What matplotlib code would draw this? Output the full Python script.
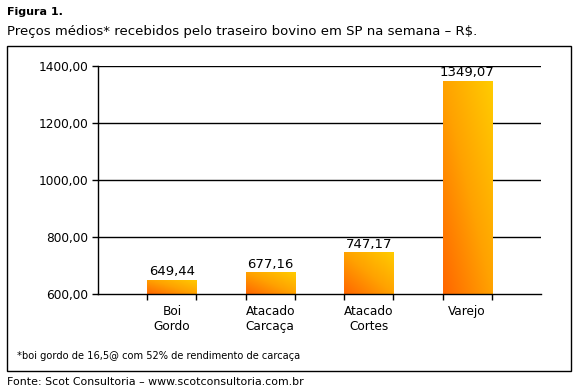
import numpy as np
import matplotlib
matplotlib.use("Agg")
import matplotlib.pyplot as plt
from matplotlib.colors import LinearSegmentedColormap
from matplotlib.patches import Rectangle

categories = ["Boi\nGordo", "Atacado\nCarcaça", "Atacado\nCortes", "Varejo"]
values = [649.44, 677.16, 747.17, 1349.07]
yticks = [600, 800, 1000, 1200, 1400]

W, H = 577, 391
fig = plt.figure(figsize=(W / 100, H / 100), dpi=100)
fig.patch.set_facecolor("white")

# outer frame
fig.patches.append(Rectangle((7 / W, 1 - 371 / H), 564 / W, 325 / H,
                             transform=fig.transFigure, fill=False,
                             edgecolor="black", linewidth=1))

ax = fig.add_axes([98 / W, 1 - 294 / H, 443 / W, 228 / H])

for s in ["top", "right"]:
    ax.spines[s].set_visible(False)
ax.spines["left"].set_linewidth(1)
ax.spines["bottom"].set_linewidth(1)

for y in yticks[1:]:
    ax.axhline(y, color="black", linewidth=1, zorder=1)

cmap = LinearSegmentedColormap.from_list("og", ["#ff6600", "#ffa200", "#ffcc00"])
grad = np.add.outer(np.linspace(0, 1, 100), np.linspace(0, 1, 100)) / 2  # rows=y, cols=x
bw = 0.5
for i, v in enumerate(values):
    x0, x1 = i - bw / 2, i + bw / 2
    im = ax.imshow(grad, cmap=cmap, origin="lower", aspect="auto",
                   extent=[x0, x1, 600, v], zorder=2, interpolation="bilinear")
    r = Rectangle((x0, 600), bw, v - 600, transform=ax.transData, visible=False)
    ax.add_patch(r)
    im.set_clip_path(r)
    ax.text(i, v + 5, f"{v:.2f}".replace(".", ","), ha="center", va="bottom",
            fontsize=9.5, zorder=3)

ax.set_xlim(-0.75, 3.75)
ax.set_ylim(600, 1400)

ax.set_yticks(yticks)
ax.set_yticklabels([f"{y:.2f}".replace(".", ",") for y in yticks], fontsize=8.7)
ax.tick_params(axis="y", length=4, width=1, pad=3)

ax.set_xticks(range(len(categories)))
ax.set_xticklabels(categories, fontsize=8.7, linespacing=1.2)
ax.tick_params(axis="x", which="major", length=0, pad=8)
minor = [i + d for i in range(len(categories)) for d in (-0.25, 0.25)]
ax.set_xticks(minor, minor=True)
ax.tick_params(axis="x", which="minor", length=4, width=1, direction="out")

fig.text(7 / W, 1 - 12 / H, "Figura 1.", fontsize=8, fontweight="bold",
         va="center", ha="left")
fig.text(7 / W, 1 - 31 / H, "Preços médios* recebidos pelo traseiro bovino em SP na semana – R$.",
         fontsize=9.5, va="center", ha="left")
fig.text(17 / W, 1 - 356 / H, "*boi gordo de 16,5@ com 52% de rendimento de carcaça",
         fontsize=7.1, va="center", ha="left")
fig.text(7 / W, 1 - 382 / H, "Fonte: Scot Consultoria – www.scotconsultoria.com.br",
         fontsize=7.9, va="center", ha="left")

fig.savefig("out.png", dpi=100)
